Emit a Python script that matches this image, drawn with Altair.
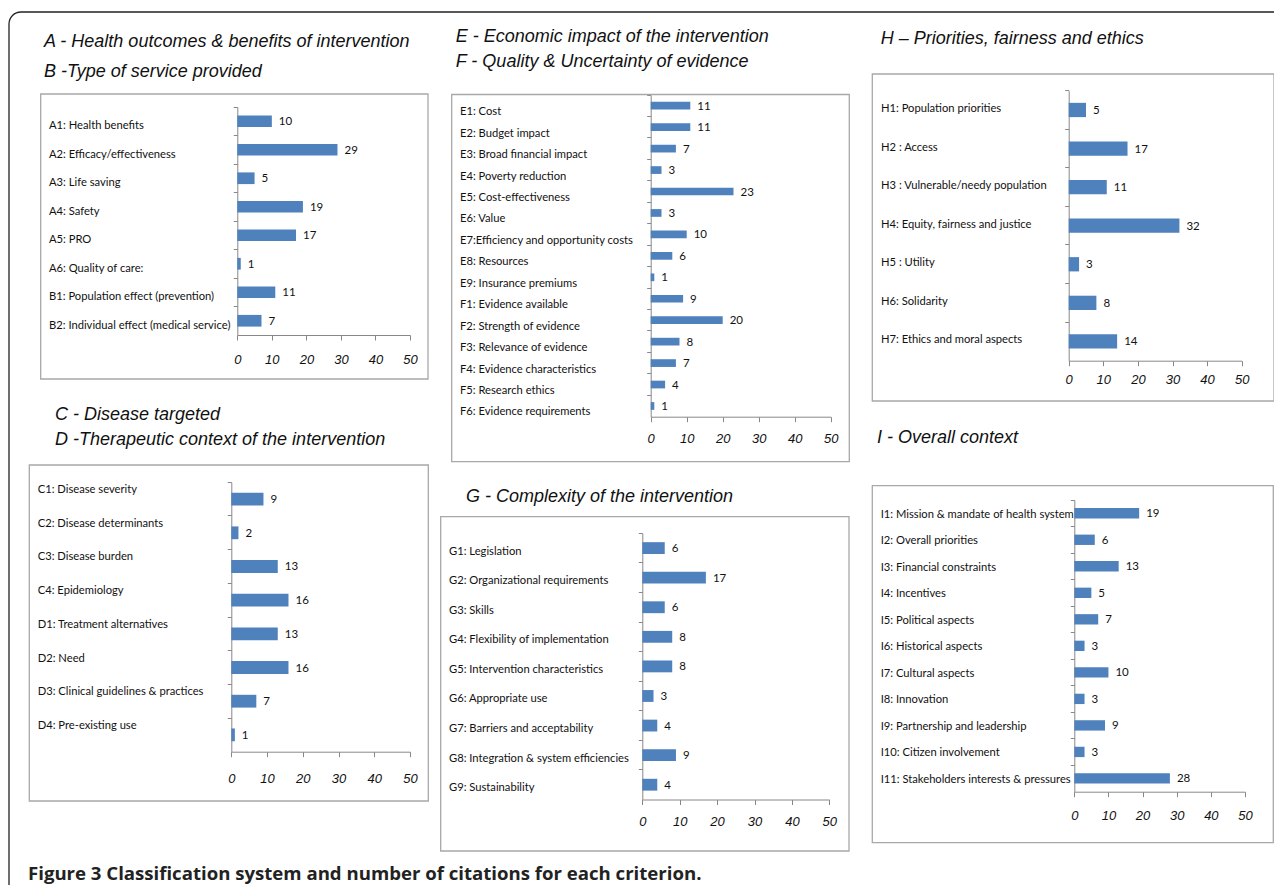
import altair as alt
import pandas as pd

W, H = 1266, 877
OX, OY = 8, 8

BLUE = "#4F81BD"
AXIS = "#888888"
BOX = "#A8A8A8"
LABEL_FONT = "Lato, Open Sans, sans-serif"
TICK_FONT = "Liberation Sans, Arial, sans-serif"
TITLE_FONT = "Liberation Sans, Arial, sans-serif"
CAP_FONT = "Open Sans, Liberation Sans, sans-serif"

# ---------------- data ----------------
ab_labels = ["A1: Health benefits", "A2: Efficacy/effectiveness", "A3: Life saving",
             "A4: Safety", "A5: PRO", "A6: Quality of care:",
             "B1: Population effect (prevention)", "B2: Individual effect (medical service)"]
ab_values = [10, 29, 5, 19, 17, 1, 11, 7]

ef_labels = ["E1: Cost", "E2: Budget impact", "E3: Broad financial impact",
             "E4: Poverty reduction", "E5: Cost-effectiveness", "E6: Value",
             "E7:Efficiency and opportunity costs", "E8: Resources",
             "E9: Insurance premiums", "F1: Evidence available",
             "F2: Strength of evidence", "F3: Relevance of evidence",
             "F4: Evidence characteristics", "F5: Research ethics",
             "F6: Evidence requirements"]
ef_values = [11, 11, 7, 3, 23, 3, 10, 6, 1, 9, 20, 8, 7, 4, 1]

h_labels = ["H1: Population priorities", "H2 : Access", "H3 : Vulnerable/needy population",
            "H4: Equity, fairness and justice", "H5 : Utility", "H6: Solidarity",
            "H7: Ethics and moral aspects"]
h_values = [5, 17, 11, 32, 3, 8, 14]

cd_labels = ["C1: Disease severity", "C2: Disease determinants", "C3: Disease burden",
             "C4: Epidemiology", "D1: Treatment alternatives", "D2: Need",
             "D3: Clinical guidelines & practices", "D4: Pre-existing use"]
cd_values = [9, 2, 13, 16, 13, 16, 7, 1]

g_labels = ["G1: Legislation", "G2: Organizational requirements", "G3: Skills",
            "G4: Flexibility of implementation", "G5: Intervention characteristics",
            "G6: Appropriate use", "G7: Barriers and acceptability",
            "G8: Integration & system efficiencies", "G9: Sustainability"]
g_values = [6, 17, 6, 8, 8, 3, 4, 9, 4]

i_labels = ["I1: Mission & mandate of health system", "I2: Overall priorities",
            "I3: Financial constraints", "I4: Incentives", "I5: Political aspects",
            "I6: Historical aspects", "I7: Cultural aspects", "I8: Innovation",
            "I9: Partnership and leadership", "I10: Citizen involvement",
            "I11: Stakeholders interests & pressures"]
i_values = [19, 6, 13, 5, 7, 3, 10, 3, 9, 3, 28]

x_ticks = [0, 10, 20, 30, 40, 50]

ab_title = ["A - Health outcomes & benefits of intervention", "B -Type of service provided"]
ef_title = ["E - Economic impact of the intervention", "F - Quality & Uncertainty of evidence"]
h_title = ["H \u2013 Priorities, fairness and ethics"]
cd_title = ["C - Disease targeted", "D -Therapeutic context of the intervention"]
g_title = ["G - Complexity  of the  intervention"]
i_title = ["I - Overall  context"]
caption = "Figure 3 Classification system and number of citations for each criterion."

# ---------------- layout (page pixels) ----------------
panels = [
    dict(labels=ab_labels, values=ab_values, box=(40.7, 94, 428, 379), ax=237.3,
         yr=(107, 335), x1=410, lx=49, ldy=5, gap=24, band=0.41,
         title=ab_title, tx=44, ty=[47, 77]),
    dict(labels=ef_labels, values=ef_values, box=(451.7, 94.5, 849.3, 461.7), ax=650.7,
         yr=(95, 416.7), x1=830.7, lx=460, ldy=6.5, gap=21.3, band=0.36,
         title=ef_title, tx=455.7, ty=[41.7, 66.7]),
    dict(labels=h_labels, values=h_values, box=(872.3, 74, 1274, 401), ax=1068.7,
         yr=(90.7, 360.7), x1=1241.7, lx=881, ldy=-1, gap=18.6, band=0.37,
         title=h_title, tx=880.7, ty=[44]),
    dict(labels=cd_labels, values=cd_values, box=(29.3, 465, 428.3, 801), ax=231.3,
         yr=(482.3, 751.7), x1=410, lx=37.7, ldy=-9, gap=26.3, band=0.38,
         title=cd_title, tx=55, ty=[420, 445]),
    dict(labels=g_labels, values=g_values, box=(440.7, 516.7, 849, 851), ax=642.3,
         yr=(533.3, 799.5), x1=829.3, lx=449, ldy=3.5, gap=22, band=0.40,
         title=g_title, tx=466, ty=[501.7]),
    dict(labels=i_labels, values=i_values, box=(872.3, 485.7, 1273.3, 842.7), ax=1074.3,
         yr=(500, 791.7), x1=1245, lx=880.7, ldy=1.5, gap=23.3, band=0.39,
         title=i_title, tx=877, ty=[442.7]),
]

dummy = pd.DataFrame({"k": [0]})


def panel_chart(p):
    df = pd.DataFrame({"criterion": p["labels"], "count": p["values"]})
    y0, y1 = p["yr"]
    xs = alt.Scale(domain=[0, 50], range=[p["ax"] - OX, p["x1"] - OX], nice=False, zero=True)
    ys = alt.Scale(domain=p["labels"], range=[y0 - OY, y1 - OY], paddingInner=0, paddingOuter=0)
    xaxis = alt.Axis(orient="bottom", offset=(y1 - OY) - H, values=x_ticks, title=None,
                     grid=False, domainColor=AXIS, tickColor=AXIS, tickSize=5,
                     labelFont=TICK_FONT, labelFontStyle="italic", labelFontSize=13,
                     labelColor="#111111", labelPadding=p["gap"] - 5, labelBaseline="middle",
                     labelAlign="center", labelFlush=False, labelOverlap=False)
    yaxis = alt.Axis(orient="left", offset=-(p["ax"] - OX), labels=False, title=None,
                     grid=False, ticks=True, tickSize=4, bandPosition=0,
                     domainColor=AXIS, tickColor=AXIS)
    x_enc = alt.X("count:Q", scale=xs, axis=xaxis)
    y_enc = alt.Y("criterion:N", scale=ys, axis=yaxis, sort=None)
    base = alt.Chart(df)
    bars = base.mark_bar(color=BLUE, height={"band": p["band"]}).encode(x=x_enc, y=y_enc)
    vals = base.mark_text(align="left", baseline="middle", dx=7, dy=1, font=LABEL_FONT,
                          fontSize=11.5, color="#111111").encode(x=x_enc, y=y_enc, text="count:Q")
    labs = base.mark_text(align="left", baseline="middle", dy=p["ldy"], font=LABEL_FONT,
                          fontSize=11.2, color="#111111").encode(
        x=alt.value(p["lx"] - OX), y=y_enc, text="criterion:N")
    return alt.layer(bars, vals, labs)


def box_chart(b):
    L, T, R, B = b
    return alt.Chart(dummy).mark_rect(fillOpacity=0, stroke=BOX, strokeWidth=1.3).encode(
        x=alt.value(L - OX), x2=alt.value(R - OX), y=alt.value(T - OY), y2=alt.value(B - OY))


def text_chart(txt, x, y, **kw):
    return alt.Chart(dummy).mark_text(text=txt, align="left", baseline="alphabetic", **kw).encode(
        x=alt.value(x - OX), y=alt.value(y - OY))


layers = []
# outer rounded frame
layers.append(alt.Chart(dummy).mark_rect(fillOpacity=0, stroke="#222222", strokeWidth=1.3,
                                         cornerRadius=12).encode(
    x=alt.value(1), x2=alt.value(W + 40), y=alt.value(4), y2=alt.value(H + 40)))
for p in panels:
    layers.append(box_chart(p["box"]))
for p in panels:
    for line, yy in zip(p["title"], p["ty"]):
        layers.append(text_chart(line, p["tx"], yy, font=TITLE_FONT, fontStyle="italic",
                                 fontSize=18, color="#111111"))
for p in panels:
    layers.append(panel_chart(p))
layers.append(text_chart(caption, 28, 879.5, font=CAP_FONT, fontWeight="bold",
                         fontSize=18.6, color="#222222"))

chart = alt.layer(*layers).resolve_scale(x="independent", y="independent").resolve_axis(
    x="independent", y="independent").properties(
    width=W, height=H, padding=0, autosize=alt.AutoSizeParams(type="none"),
    background="white").configure_view(stroke=None)

chart.save("out.html", embed_options={"renderer": "svg", "actions": False})
